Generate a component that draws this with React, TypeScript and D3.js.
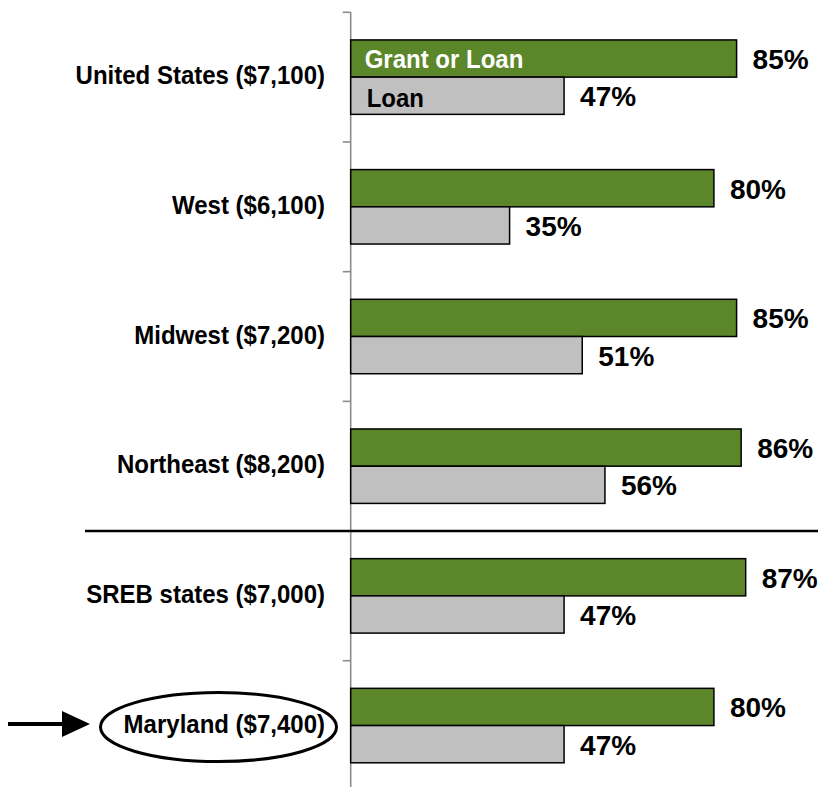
import React, { useEffect } from "react";
import * as d3 from "d3";

// Categories with average aid amount
const regions = [
  "United States ($7,100)",
  "West ($6,100)",
  "Midwest ($7,200)",
  "Northeast ($8,200)",
  "SREB states ($7,000)",
  "Maryland ($7,400)",
];
const seriesNames = ["Grant or Loan", "Loan"];
const grantOrLoan = [85, 80, 85, 86, 87, 80];
const loanOnly = [47, 35, 51, 56, 47, 47];

const W = 823;
const H = 787;
const FONT = "'Liberation Sans', Arial, Helvetica, sans-serif";
const GREEN = "#5b862a";
const GRAY = "#c0c0c0";

const App = () => {
  useEffect(() => {
    document.body.style.margin = "0";
  }, []);

  const axisX = 350.7;
  const top = 12.3;
  const bottom = 790.4;

  const x = d3.scaleLinear().domain([0, 100]).range([axisX, axisX + 454]);
  const y = d3
    .scaleBand()
    .domain(regions)
    .range([top, bottom])
    .paddingInner(0.426)
    .paddingOuter(0.213);
  const sub = d3.scaleBand().domain(seriesNames).range([0, y.bandwidth()]);

  const step = y.step();
  const gap = step - y.bandwidth();
  const tickYs = d3.range(regions.length + 1).map((i) => top + i * step);
  const sepY = (y(regions[4]) as number) - gap / 2;

  const rows = regions.map((r, i) => ({
    region: r,
    values: [grantOrLoan[i], loanOnly[i]],
  }));

  const mdCenter = (y(regions[5]) as number) + y.bandwidth() / 2;

  return (
    <svg width={W} height={H} style={{ display: "block" }} fontFamily={FONT}>
      <rect width={W} height={H} fill="#fff" />

      {/* axis */}
      <line x1={axisX} x2={axisX} y1={top} y2={bottom} stroke="#8c8c8c" strokeWidth={1.6} />
      {tickYs.map((t, i) => (
        <line key={i} x1={axisX - 8} x2={axisX} y1={t} y2={t} stroke="#8c8c8c" strokeWidth={1.6} />
      ))}

      {/* separator */}
      <line x1={85} x2={818} y1={sepY} y2={sepY} stroke="#000" strokeWidth={2.5} />

      {rows.map((row, i) => {
        const y0 = y(row.region) as number;
        const center = y0 + y.bandwidth() / 2;
        return (
          <g key={row.region}>
            <text
              transform={`translate(325,${center + 7}) scale(0.96,1)`}
              textAnchor="end"
              fontSize={25}
              fontWeight="bold"
              fill="#000"
            >
              {row.region}
            </text>
            {row.values.map((v, j) => {
              const by = y0 + (sub(seriesNames[j]) as number);
              const bh = sub.bandwidth();
              return (
                <g key={j}>
                  <rect
                    x={x(0)}
                    y={by}
                    width={x(v) - x(0)}
                    height={bh}
                    fill={j === 0 ? GREEN : GRAY}
                    stroke="#000"
                    strokeWidth={1.5}
                  />
                  <text
                    x={x(v) + 16}
                    y={by + bh / 2 + 10.5}
                    fontSize={28}
                    fontWeight="bold"
                    fill="#000"
                  >
                    {v}%
                  </text>
                  {i === 0 && (
                    <text
                      transform={`translate(${x(0) + (j === 0 ? 14 : 16)},${by + bh / 2 + (j === 0 ? 9 : 11)}) scale(0.96,1)`}
                      fontSize={25}
                      fontWeight="bold"
                      fill={j === 0 ? "#fff" : "#000"}
                    >
                      {seriesNames[j]}
                    </text>
                  )}
                </g>
              );
            })}
          </g>
        );
      })}

      {/* Maryland highlight */}
      <ellipse cx={218.5} cy={mdCenter + 1.5} rx={118} ry={34.5} fill="none" stroke="#000" strokeWidth={3} />
      <line x1={8} x2={66} y1={mdCenter - 1.5} y2={mdCenter - 1.5} stroke="#000" strokeWidth={4} />
      <polygon
        points={`62,${mdCenter - 14.5} 90,${mdCenter - 1.5} 62,${mdCenter + 11.5}`}
        fill="#000"
      />
    </svg>
  );
};

export default App;
